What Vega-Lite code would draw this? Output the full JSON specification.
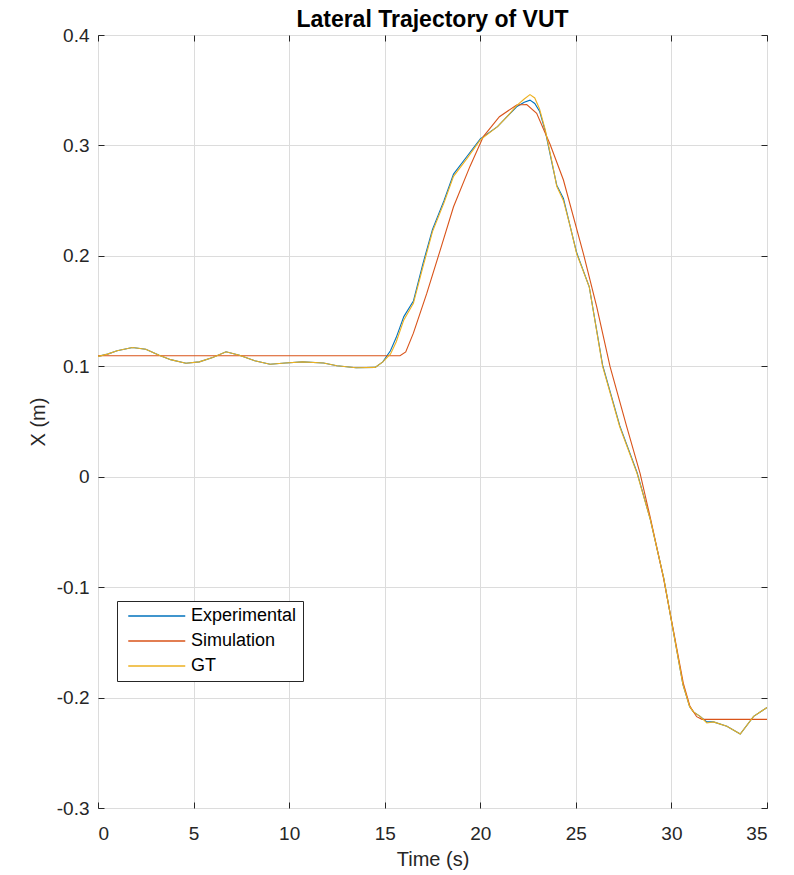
{
  "$schema": "https://vega.github.io/schema/vega-lite/v6.json",
  "autosize": {"type": "none"},
  "width": 669,
  "height": 773,
  "padding": {"left": 98, "top": 35, "right": 27, "bottom": 67},
  "background": "white",
  "title": {
    "text": "Lateral Trajectory of VUT",
    "font": "Liberation Sans",
    "fontSize": 23,
    "fontWeight": "bold",
    "color": "#000000",
    "offset": -6
  },
  "data": {
    "values": [
      {"t": 0.0, "x": 0.109, "series": "Experimental"},
      {"t": 0.5, "x": 0.111, "series": "Experimental"},
      {"t": 1.0, "x": 0.114, "series": "Experimental"},
      {"t": 1.8, "x": 0.117, "series": "Experimental"},
      {"t": 2.5, "x": 0.1155, "series": "Experimental"},
      {"t": 3.2, "x": 0.110, "series": "Experimental"},
      {"t": 3.8, "x": 0.106, "series": "Experimental"},
      {"t": 4.6, "x": 0.1027, "series": "Experimental"},
      {"t": 5.3, "x": 0.104, "series": "Experimental"},
      {"t": 6.0, "x": 0.108, "series": "Experimental"},
      {"t": 6.7, "x": 0.1132, "series": "Experimental"},
      {"t": 7.4, "x": 0.110, "series": "Experimental"},
      {"t": 8.2, "x": 0.105, "series": "Experimental"},
      {"t": 9.0, "x": 0.1018, "series": "Experimental"},
      {"t": 9.8, "x": 0.103, "series": "Experimental"},
      {"t": 10.7, "x": 0.104, "series": "Experimental"},
      {"t": 11.8, "x": 0.103, "series": "Experimental"},
      {"t": 12.5, "x": 0.1005, "series": "Experimental"},
      {"t": 13.5, "x": 0.0987, "series": "Experimental"},
      {"t": 14.5, "x": 0.099, "series": "Experimental"},
      {"t": 14.9, "x": 0.104, "series": "Experimental"},
      {"t": 15.3, "x": 0.114, "series": "Experimental"},
      {"t": 15.6, "x": 0.126, "series": "Experimental"},
      {"t": 16.0, "x": 0.145, "series": "Experimental"},
      {"t": 16.5, "x": 0.159, "series": "Experimental"},
      {"t": 17.0, "x": 0.193, "series": "Experimental"},
      {"t": 17.5, "x": 0.224, "series": "Experimental"},
      {"t": 18.1, "x": 0.250, "series": "Experimental"},
      {"t": 18.6, "x": 0.274, "series": "Experimental"},
      {"t": 19.3, "x": 0.290, "series": "Experimental"},
      {"t": 20.0, "x": 0.306, "series": "Experimental"},
      {"t": 20.9, "x": 0.317, "series": "Experimental"},
      {"t": 21.4, "x": 0.326, "series": "Experimental"},
      {"t": 21.9, "x": 0.335, "series": "Experimental"},
      {"t": 22.3, "x": 0.339, "series": "Experimental"},
      {"t": 22.6, "x": 0.341, "series": "Experimental"},
      {"t": 22.85, "x": 0.338, "series": "Experimental"},
      {"t": 23.1, "x": 0.331, "series": "Experimental"},
      {"t": 23.4, "x": 0.313, "series": "Experimental"},
      {"t": 23.8, "x": 0.280, "series": "Experimental"},
      {"t": 24.0, "x": 0.264, "series": "Experimental"},
      {"t": 24.35, "x": 0.252, "series": "Experimental"},
      {"t": 24.7, "x": 0.227, "series": "Experimental"},
      {"t": 25.04, "x": 0.203, "series": "Experimental"},
      {"t": 25.7, "x": 0.172, "series": "Experimental"},
      {"t": 26.4, "x": 0.101, "series": "Experimental"},
      {"t": 27.3, "x": 0.046, "series": "Experimental"},
      {"t": 28.2, "x": 0.004, "series": "Experimental"},
      {"t": 28.9, "x": -0.039, "series": "Experimental"},
      {"t": 29.6, "x": -0.092, "series": "Experimental"},
      {"t": 30.1, "x": -0.140, "series": "Experimental"},
      {"t": 30.6, "x": -0.188, "series": "Experimental"},
      {"t": 30.95, "x": -0.208, "series": "Experimental"},
      {"t": 31.15, "x": -0.213, "series": "Experimental"},
      {"t": 31.5, "x": -0.217, "series": "Experimental"},
      {"t": 31.85, "x": -0.222, "series": "Experimental"},
      {"t": 32.2, "x": -0.222, "series": "Experimental"},
      {"t": 32.9, "x": -0.226, "series": "Experimental"},
      {"t": 33.6, "x": -0.233, "series": "Experimental"},
      {"t": 34.3, "x": -0.217, "series": "Experimental"},
      {"t": 35.0, "x": -0.209, "series": "Experimental"},

      {"t": 0.0, "x": 0.1095, "series": "Simulation"},
      {"t": 15.8, "x": 0.1095, "series": "Simulation"},
      {"t": 16.1, "x": 0.113, "series": "Simulation"},
      {"t": 16.5, "x": 0.130, "series": "Simulation"},
      {"t": 17.2, "x": 0.166, "series": "Simulation"},
      {"t": 17.9, "x": 0.205, "series": "Simulation"},
      {"t": 18.6, "x": 0.2445, "series": "Simulation"},
      {"t": 19.46, "x": 0.281, "series": "Simulation"},
      {"t": 20.16, "x": 0.308, "series": "Simulation"},
      {"t": 21.0, "x": 0.326, "series": "Simulation"},
      {"t": 21.9, "x": 0.3366, "series": "Simulation"},
      {"t": 22.43, "x": 0.337, "series": "Simulation"},
      {"t": 22.95, "x": 0.329, "series": "Simulation"},
      {"t": 23.65, "x": 0.301, "series": "Simulation"},
      {"t": 24.35, "x": 0.2687, "series": "Simulation"},
      {"t": 25.39, "x": 0.2023, "series": "Simulation"},
      {"t": 26.09, "x": 0.154, "series": "Simulation"},
      {"t": 26.79, "x": 0.0996, "series": "Simulation"},
      {"t": 27.66, "x": 0.0453, "series": "Simulation"},
      {"t": 28.36, "x": 0.003, "series": "Simulation"},
      {"t": 28.88, "x": -0.036, "series": "Simulation"},
      {"t": 29.57, "x": -0.0905, "series": "Simulation"},
      {"t": 30.1, "x": -0.139, "series": "Simulation"},
      {"t": 30.62, "x": -0.187, "series": "Simulation"},
      {"t": 30.97, "x": -0.208, "series": "Simulation"},
      {"t": 31.32, "x": -0.2173, "series": "Simulation"},
      {"t": 31.6, "x": -0.2197, "series": "Simulation"},
      {"t": 35.0, "x": -0.2197, "series": "Simulation"},

      {"t": 0.0, "x": 0.109, "series": "GT"},
      {"t": 0.5, "x": 0.111, "series": "GT"},
      {"t": 1.0, "x": 0.114, "series": "GT"},
      {"t": 1.8, "x": 0.117, "series": "GT"},
      {"t": 2.5, "x": 0.1155, "series": "GT"},
      {"t": 3.2, "x": 0.110, "series": "GT"},
      {"t": 3.8, "x": 0.106, "series": "GT"},
      {"t": 4.6, "x": 0.1027, "series": "GT"},
      {"t": 5.3, "x": 0.104, "series": "GT"},
      {"t": 6.0, "x": 0.108, "series": "GT"},
      {"t": 6.7, "x": 0.1132, "series": "GT"},
      {"t": 7.4, "x": 0.110, "series": "GT"},
      {"t": 8.2, "x": 0.105, "series": "GT"},
      {"t": 9.0, "x": 0.1018, "series": "GT"},
      {"t": 9.8, "x": 0.103, "series": "GT"},
      {"t": 10.7, "x": 0.104, "series": "GT"},
      {"t": 11.8, "x": 0.103, "series": "GT"},
      {"t": 12.5, "x": 0.1005, "series": "GT"},
      {"t": 13.5, "x": 0.0987, "series": "GT"},
      {"t": 14.5, "x": 0.099, "series": "GT"},
      {"t": 14.9, "x": 0.104, "series": "GT"},
      {"t": 15.3, "x": 0.111, "series": "GT"},
      {"t": 15.6, "x": 0.122, "series": "GT"},
      {"t": 16.0, "x": 0.142, "series": "GT"},
      {"t": 16.5, "x": 0.157, "series": "GT"},
      {"t": 17.0, "x": 0.190, "series": "GT"},
      {"t": 17.5, "x": 0.222, "series": "GT"},
      {"t": 18.1, "x": 0.248, "series": "GT"},
      {"t": 18.6, "x": 0.272, "series": "GT"},
      {"t": 19.3, "x": 0.288, "series": "GT"},
      {"t": 20.0, "x": 0.305, "series": "GT"},
      {"t": 20.9, "x": 0.317, "series": "GT"},
      {"t": 21.4, "x": 0.326, "series": "GT"},
      {"t": 21.9, "x": 0.336, "series": "GT"},
      {"t": 22.3, "x": 0.342, "series": "GT"},
      {"t": 22.6, "x": 0.346, "series": "GT"},
      {"t": 22.85, "x": 0.343, "series": "GT"},
      {"t": 23.1, "x": 0.333, "series": "GT"},
      {"t": 23.4, "x": 0.314, "series": "GT"},
      {"t": 23.8, "x": 0.281, "series": "GT"},
      {"t": 24.0, "x": 0.263, "series": "GT"},
      {"t": 24.35, "x": 0.250, "series": "GT"},
      {"t": 24.7, "x": 0.227, "series": "GT"},
      {"t": 25.04, "x": 0.202, "series": "GT"},
      {"t": 25.7, "x": 0.172, "series": "GT"},
      {"t": 26.4, "x": 0.100, "series": "GT"},
      {"t": 27.3, "x": 0.045, "series": "GT"},
      {"t": 28.2, "x": 0.003, "series": "GT"},
      {"t": 28.9, "x": -0.039, "series": "GT"},
      {"t": 29.6, "x": -0.092, "series": "GT"},
      {"t": 30.1, "x": -0.140, "series": "GT"},
      {"t": 30.6, "x": -0.188, "series": "GT"},
      {"t": 30.95, "x": -0.208, "series": "GT"},
      {"t": 31.15, "x": -0.213, "series": "GT"},
      {"t": 31.5, "x": -0.217, "series": "GT"},
      {"t": 31.85, "x": -0.223, "series": "GT"},
      {"t": 32.2, "x": -0.222, "series": "GT"},
      {"t": 32.9, "x": -0.226, "series": "GT"},
      {"t": 33.6, "x": -0.233, "series": "GT"},
      {"t": 34.3, "x": -0.217, "series": "GT"},
      {"t": 35.0, "x": -0.209, "series": "GT"}
    ]
  },
  "layer": [
    {
      "mark": {"type": "line", "strokeWidth": 1.1, "clip": true},
      "encoding": {
        "x": {
          "field": "t",
          "type": "quantitative",
          "title": "Time (s)",
          "scale": {"domain": [0, 35], "nice": false, "zero": false},
          "axis": {"values": [0, 5, 10, 15, 20, 25, 30, 35], "format": "d"}
        },
        "y": {
          "field": "x",
          "type": "quantitative",
          "title": "X (m)",
          "scale": {"domain": [-0.3, 0.4], "nice": false, "zero": false},
          "axis": {
            "values": [-0.3, -0.2, -0.1, 0, 0.1, 0.2, 0.3, 0.4],
            "labelExpr": "replace(format(datum.value, '.1~f'), '−', '-')"
          }
        },
        "color": {
          "field": "series",
          "type": "nominal",
          "sort": ["Experimental", "Simulation", "GT"],
          "scale": {"domain": ["Experimental", "Simulation", "GT"], "range": ["#0072BD", "#D95319", "#EDB120"]},
          "legend": {
            "title": null,
            "orient": "none",
            "legendX": 19,
            "legendY": 566,
            "symbolType": "M-1,0H14.2",
            "symbolSize": 56.25,
            "symbolStrokeWidth": 1.3,
            "labelFont": "Liberation Sans",
            "labelFontSize": 18,
            "labelColor": "#000000",
            "labelOffset": 50,
            "rowPadding": 7,
            "padding": 6,
            "strokeColor": "#262626",
            "fillColor": "#ffffff"
          }
        }
      }
    },
    {
      "mark": {"type": "line", "opacity": 0, "clip": true},
      "encoding": {
        "x": {
          "field": "t",
          "type": "quantitative",
          "axis": {"orient": "top", "values": [0, 5, 10, 15, 20, 25, 30, 35], "labels": false, "grid": false, "title": null}
        },
        "y": {
          "field": "x",
          "type": "quantitative",
          "axis": {"orient": "right", "values": [-0.3, -0.2, -0.1, 0, 0.1, 0.2, 0.3, 0.4], "labels": false, "grid": false, "title": null}
        },
        "detail": {"field": "series", "type": "nominal"}
      }
    }
  ],
  "resolve": {"axis": {"x": "independent", "y": "independent"}},
  "config": {
    "view": {"stroke": "#262626", "strokeWidth": 1},
    "axis": {
      "domain": false,
      "grid": true,
      "gridColor": "#dcdcdc",
      "gridWidth": 1,
      "tickColor": "#262626",
      "tickSize": -6,
      "labelFont": "Liberation Sans",
      "labelFontSize": 19,
      "labelColor": "#262626",
      "titleFont": "Liberation Sans",
      "titleFontSize": 20,
      "titleFontWeight": "normal",
      "titleColor": "#262626"
    },
    "axisX": {"labelPadding": 22, "titlePadding": 6},
    "axisY": {"labelPadding": 15, "titlePadding": 8}
  }
}
